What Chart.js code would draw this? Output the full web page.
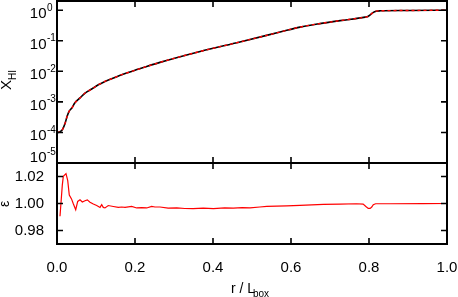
<!DOCTYPE html>
<html lang="en">
<head>
    <meta charset="UTF-8">
    <title>X_HI profile</title>
    <style>
        body {
            margin: 0;
            background-color: white;
        }
        canvas {
            display: block;
        }
    </style>
</head>
<body>
    <canvas id="chart" width="458" height="297"></canvas>

    <script src="https://cdn.jsdelivr.net/npm/chart.js"></script>
    <script>
        // neutral fraction profile (top panel)
        const rHi = [0, 0.005, 0.010, 0.015, 0.021, 0.026, 0.031, 0.038, 0.046, 0.059, 0.072, 0.089,
            0.106, 0.123, 0.145, 0.166, 0.200, 0.264, 0.367, 0.469, 0.572, 0.623, 0.674, 0.726,
            0.790, 0.797, 0.804, 0.811, 0.818, 0.830, 0.900, 1.000];
        const xHiRef = [1.00e-4, 1.02e-4, 1.10e-4, 1.32e-4, 2.04e-4, 3.39e-4, 4.90e-4, 6.31e-4, 9.33e-4,
            1.35e-3, 1.95e-3, 2.63e-3, 3.63e-3, 4.68e-3, 6.03e-3, 7.76e-3, 1.08e-2, 1.96e-2, 4.47e-2,
            9.12e-2, 0.193, 0.280, 0.364, 0.456, 0.592, 0.620, 0.720, 0.850, 0.930, 0.955, 0.977, 1.0];
        // second run lies on top of the first one
        const xHiTest = [1.00e-4, 1.02e-4, 1.10e-4, 1.32e-4, 2.04e-4, 3.39e-4, 4.90e-4, 6.31e-4, 9.33e-4,
            1.35e-3, 1.95e-3, 2.63e-3, 3.63e-3, 4.68e-3, 6.03e-3, 7.76e-3, 1.08e-2, 1.96e-2, 4.47e-2,
            9.12e-2, 0.193, 0.280, 0.364, 0.456, 0.592, 0.620, 0.720, 0.850, 0.930, 0.955, 0.977, 1.0];

        // ratio of the two runs (bottom panel)
        const rEps = [0.0077, 0.0136, 0.0162, 0.0231, 0.0274, 0.0315, 0.0372, 0.0418, 0.048, 0.0531,
            0.059, 0.0649, 0.0718, 0.0777, 0.0846, 0.0931, 0.1018, 0.1103, 0.1146, 0.1187, 0.123,
            0.1315, 0.1444, 0.1572, 0.1659, 0.1744, 0.1915, 0.2044, 0.2172, 0.23, 0.2428, 0.2513,
            0.264, 0.285, 0.307, 0.328, 0.349, 0.375, 0.401, 0.43, 0.452, 0.475, 0.495, 0.52, 0.538,
            0.589, 0.623, 0.683, 0.726, 0.768, 0.785, 0.792, 0.798, 0.803, 0.807, 0.811, 0.817,
            0.854, 0.938, 1.0];
        const eps = [0.9905, 1.0136, 1.0201, 1.0221, 1.0172, 1.0063, 1.0034, 0.9998, 0.9954, 1.0015,
            1.0027, 1.0011, 1.0020, 1.0027, 1.0010, 0.9996, 0.9985, 0.9971, 0.9991, 0.9971, 0.9967,
            0.9985, 0.9978, 0.9971, 0.9974, 0.9971, 0.9978, 0.9967, 0.9969, 0.9967, 0.9978, 0.9974,
            0.9974, 0.9966, 0.9967, 0.9963, 0.9962, 0.9966, 0.9962, 0.9967, 0.9966, 0.9970, 0.9968,
            0.9974, 0.9978, 0.9982, 0.9986, 0.9993, 0.9996, 0.9998, 0.9996, 0.9978, 0.9964, 0.9964,
            0.9974, 0.9991, 0.9998, 0.9998, 0.9999, 1.0];

        // tick positions
        const xTicks = [0, 0.2, 0.4, 0.6, 0.8, 1.0];
        const hiTicks = [1e-5, 1e-4, 1e-3, 1e-2, 1e-1, 1e0];
        const hiExp = ['-5', '-4', '-3', '-2', '-1', '0'];
        const epsTicks = [0.98, 1.00, 1.02];

        const FONT = "'Liberation Sans', Arial, sans-serif";

        function pts(xs, ys) {
            return xs.map((x, i) => ({ x: x, y: ys[i] }));
        }

        function noPad(s) {
            s.paddingTop = 0;
            s.paddingBottom = 0;
            s.paddingLeft = 0;
            s.paddingRight = 0;
        }

        // frame, inward ticks, log labels and axis titles
        const decor = {
            id: 'decor',
            afterDraw(chart) {
                const c = chart.ctx;
                const a = chart.chartArea;
                const sx = chart.scales.x;
                const sHi = chart.scales.yHi;
                const sEps = chart.scales.yEps;
                const mid = sEps.top;
                const tl = 6;

                c.save();
                c.strokeStyle = '#000';
                c.lineWidth = 2;
                c.strokeRect(a.left, a.top, a.right - a.left, a.bottom - a.top);
                c.beginPath();
                c.moveTo(a.left, mid);
                c.lineTo(a.right, mid);
                c.stroke();

                c.lineWidth = 1.6;
                c.beginPath();
                xTicks.forEach(v => {
                    const px = sx.getPixelForValue(v);
                    c.moveTo(px, a.top); c.lineTo(px, a.top + tl);
                    c.moveTo(px, mid - tl); c.lineTo(px, mid + tl);
                    c.moveTo(px, a.bottom); c.lineTo(px, a.bottom - tl);
                });
                hiTicks.forEach(v => {
                    const py = sHi.getPixelForValue(v);
                    c.moveTo(a.left, py); c.lineTo(a.left + tl, py);
                    c.moveTo(a.right, py); c.lineTo(a.right - tl, py);
                });
                epsTicks.forEach(v => {
                    const py = sEps.getPixelForValue(v);
                    c.moveTo(a.left, py); c.lineTo(a.left + tl, py);
                    c.moveTo(a.right, py); c.lineTo(a.right - tl, py);
                });
                c.stroke();

                // log labels 10^n, kept inside the top panel
                c.fillStyle = '#000';
                hiTicks.forEach((v, i) => {
                    const py = Math.min(sHi.getPixelForValue(v), mid - 9);
                    c.font = '15px ' + FONT;
                    c.textAlign = 'right';
                    c.textBaseline = 'alphabetic';
                    c.fillText('10', 46.5, py + 8);
                    c.font = '10px ' + FONT;
                    c.textAlign = 'left';
                    c.fillText(hiExp[i], 47, py + 0.5);
                });

                // y title X_HI
                c.save();
                c.translate(11, 84);
                c.rotate(-Math.PI / 2);
                c.font = '15px ' + FONT;
                c.textAlign = 'left';
                c.fillText('X', -6, 0);
                c.font = '10px ' + FONT;
                c.fillText('HI', 4, 5);
                c.restore();

                // y title epsilon
                c.save();
                c.translate(9, 204);
                c.rotate(-Math.PI / 2);
                c.font = '14px ' + FONT;
                c.textAlign = 'center';
                c.fillText('\u03b5', 0, 0);
                c.restore();

                // x title r / L_box
                c.font = '14px ' + FONT;
                c.textAlign = 'left';
                c.fillText('r / L', 231, 293);
                c.font = '10px ' + FONT;
                c.fillText('box', 253, 297);
                c.restore();
            }
        };

        const ctx = document.getElementById('chart').getContext('2d');
        const chart = new Chart(ctx, {
            type: 'line',
            data: {
                datasets: [
                    {
                        label: 'run 1',
                        data: pts(rHi, xHiRef),
                        yAxisID: 'yHi',
                        borderColor: '#000',
                        borderWidth: 1.6,
                        pointRadius: 0,
                        order: 2,
                        cubicInterpolationMode: 'monotone'
                    },
                    {
                        label: 'run 2',
                        data: pts(rHi, xHiTest),
                        yAxisID: 'yHi',
                        borderColor: '#ff0000',
                        borderWidth: 1.4,
                        borderDash: [3, 3],
                        pointRadius: 0,
                        order: 1,
                        cubicInterpolationMode: 'monotone'
                    },
                    {
                        label: 'epsilon',
                        data: pts(rEps, eps),
                        yAxisID: 'yEps',
                        borderColor: '#ff0000',
                        borderWidth: 1.2,
                        pointRadius: 0,
                        order: 0
                    }
                ]
            },
            options: {
                responsive: false,
                animation: false,
                layout: { padding: { top: 1, right: 11, left: 0, bottom: 0 } },
                plugins: {
                    legend: { display: false },
                    tooltip: { enabled: false }
                },
                scales: {
                    x: {
                        type: 'linear',
                        min: 0,
                        max: 1,
                        afterBuildTicks: s => { s.ticks = xTicks.map(v => ({ value: v })); },
                        afterFit: s => { s.height = 53; noPad(s); },
                        grid: { display: false },
                        border: { display: false },
                        ticks: {
                            color: '#000',
                            font: { family: FONT, size: 15 },
                            padding: 7,
                            maxRotation: 0,
                            autoSkip: false,
                            callback: v => v.toFixed(1)
                        }
                    },
                    yEps: {
                        type: 'linear',
                        position: 'left',
                        stack: 'panels',
                        stackWeight: 1,
                        min: 0.97,
                        max: 1.03,
                        afterBuildTicks: s => { s.ticks = epsTicks.map(v => ({ value: v })); },
                        afterFit: s => { s.width = 57; noPad(s); },
                        grid: { display: false },
                        border: { display: false },
                        ticks: {
                            color: '#000',
                            font: { family: FONT, size: 15 },
                            padding: 5,
                            callback: v => v.toFixed(2)
                        }
                    },
                    yHi: {
                        type: 'logarithmic',
                        position: 'left',
                        stack: 'panels',
                        stackWeight: 2,
                        min: 1e-5,
                        max: 2,
                        afterBuildTicks: s => { s.ticks = hiTicks.map(v => ({ value: v })); },
                        afterFit: s => { s.width = 57; noPad(s); },
                        grid: { display: false },
                        border: { display: false },
                        ticks: { callback: () => '' }
                    }
                }
            },
            plugins: [decor]
        });
    </script>
</body>
</html>
